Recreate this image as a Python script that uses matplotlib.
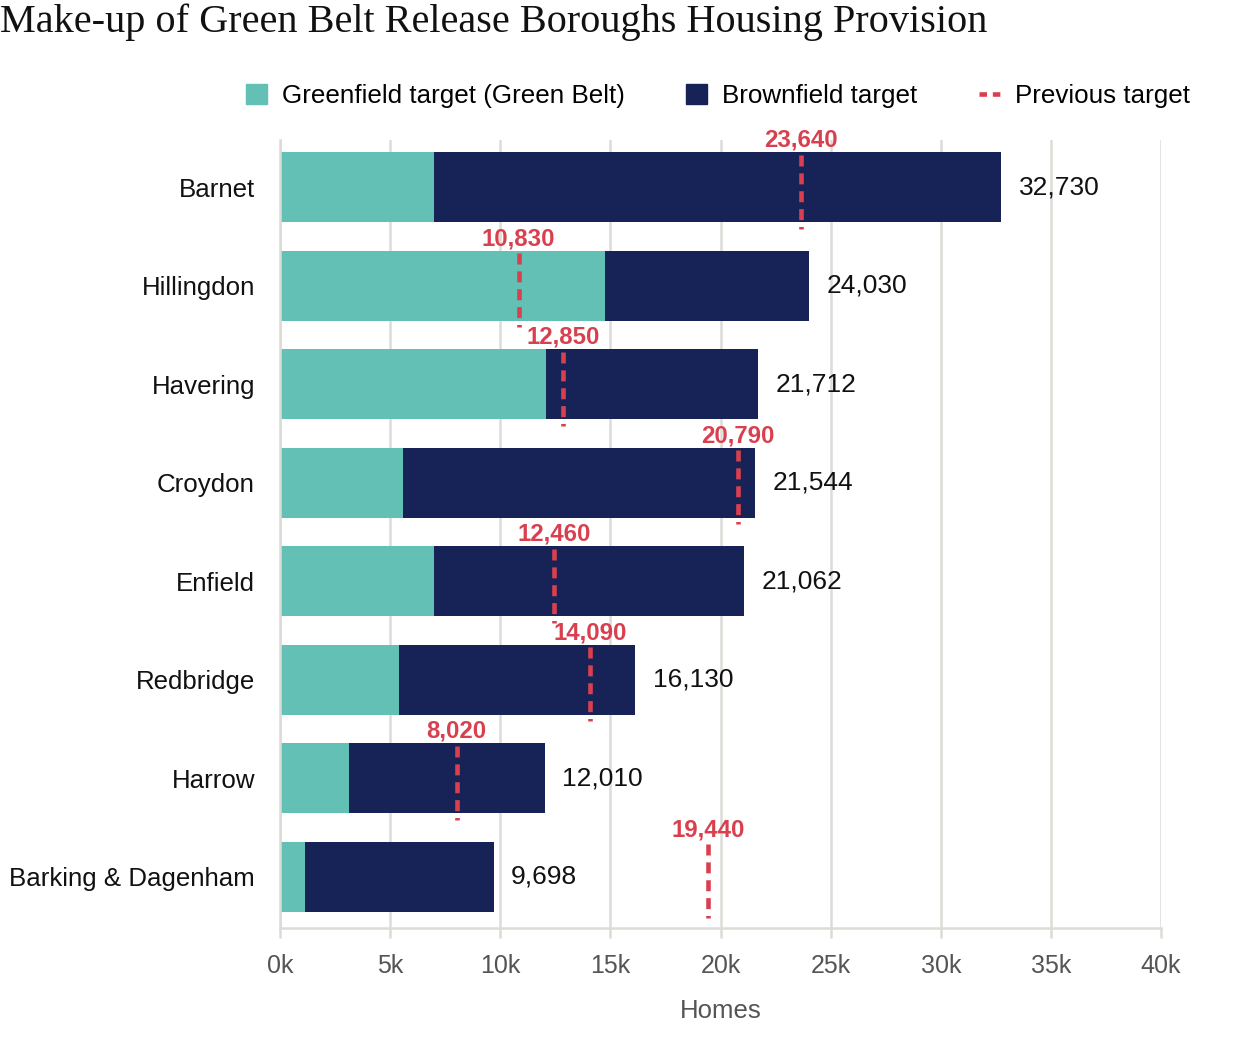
import numpy as np
import matplotlib
matplotlib.use("Agg")
import matplotlib.pyplot as plt
from matplotlib.patches import Patch
from matplotlib.lines import Line2D
from matplotlib.ticker import FuncFormatter

boroughs = ["Barnet", "Hillingdon", "Havering", "Croydon", "Enfield",
            "Redbridge", "Harrow", "Barking & Dagenham"]
totals = [32730, 24030, 21712, 21544, 21062, 16130, 12010, 9698]
greenfield = [7000, 14760, 12080, 5580, 7000, 5400, 3130, 1130]
previous = [23640, 10830, 12850, 20790, 12460, 14090, 8020, 19440]
brownfield = [t - g for t, g in zip(totals, greenfield)]

TEAL = "#63c0b4"
NAVY = "#172357"
RED = "#d9404f"
GRID = "#dcdcd6"

plt.rcParams['font.family'] = ['Liberation Sans', 'DejaVu Sans']

fig = plt.figure(figsize=(12.6, 10.46), dpi=100)
ax = fig.add_axes([280/1260, 1 - 928/1046, 881/1260, (928-140)/1046])

y = np.arange(len(boroughs))
ax.barh(y, greenfield, height=0.71, color=TEAL, zorder=2)
ax.barh(y, brownfield, left=greenfield, height=0.71, color=NAVY, zorder=2)

for i in range(len(boroughs)):
    ax.text(totals[i] + 800, y[i], f"{totals[i]:,}", va="center", ha="left",
            fontsize=19, color="#111111")
    # previous target marker + label
    ax.plot([previous[i], previous[i]], [y[i] - 0.33, y[i] + 0.42],
            color=RED, lw=3.3, ls=(0, (2.4, 1.5)), zorder=3)
    ax.text(previous[i], y[i] - 0.36, f"{previous[i]:,}", ha="center",
            va="bottom", fontsize=17.3, fontweight="bold", color=RED, zorder=4)

ax.set_xlim(0, 40000)
ax.set_ylim(7.52, -0.48)
ax.set_yticks(y)
ax.set_yticklabels(boroughs, fontsize=18.6, color="#111111")
ax.set_xticks(np.arange(0, 40001, 5000))
ax.xaxis.set_major_formatter(FuncFormatter(lambda v, p: f"{int(v/1000)}k"))
ax.tick_params(axis="x", labelsize=18, colors="#555555", length=7, width=1.8,
               color=GRID, pad=12)
ax.tick_params(axis="y", length=0, pad=18)
ax.grid(axis="x", color=GRID, lw=1.8, zorder=0)
for s in ["top", "right"]:
    ax.spines[s].set_visible(False)
for s in ["left", "bottom"]:
    ax.spines[s].set_color(GRID)
    ax.spines[s].set_linewidth(1.8)
ax.set_xlabel("Homes", fontsize=18.5, color="#555555", labelpad=15)

handles = [Patch(color=TEAL), Patch(color=NAVY),
           Line2D([0], [0], color=RED, lw=3.3, ls=(0, (1.64, 1.27)))]
labels = ["Greenfield target (Green Belt)", "Brownfield target", "Previous target"]
fig.legend(handles, labels, loc="center", bbox_to_anchor=(718/1260, 1 - 96/1046),
           ncol=3, frameon=False, fontsize=18.7, handlelength=0.8, handleheight=0.8,
           columnspacing=2.35, handletextpad=0.6)

fig.text(0.0, 1 - 22/1046, "Make-up of Green Belt Release Boroughs Housing Provision",
         fontsize=29, family="Liberation Serif", va="center", ha="left", color="#111111")

fig.savefig("out.png", dpi=100, facecolor="white")
